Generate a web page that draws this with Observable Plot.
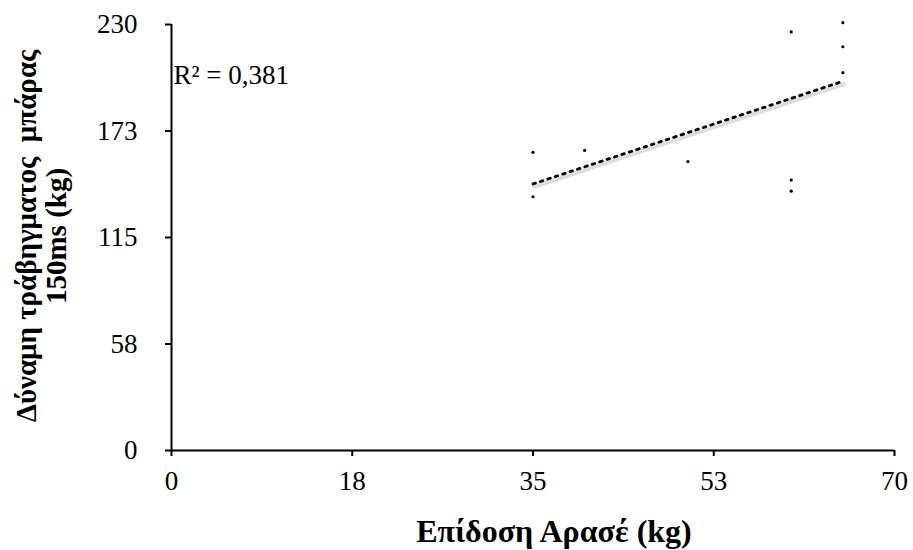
<!DOCTYPE html>
<html>
<head>
<meta charset="utf-8">
<script src="https://cdn.jsdelivr.net/npm/d3@7"></script>
<script src="https://cdn.jsdelivr.net/npm/@observablehq/plot@0.6"></script>
<style>
  html, body { margin: 0; padding: 0; background: #fff; }
</style>
</head>
<body>
<div id="chart"></div>
<script>
// Data
const arase = [35, 35, 40, 50, 60, 60, 60, 65, 65, 65];          // Επίδοση Αρασέ (kg)
const force = [161, 137, 162, 156, 226, 146, 140, 231, 218, 204]; // Δύναμη τράβηγματος μπάρας 150ms (kg)
const xTicks = [0, 17.5, 35, 52.5, 70];
const yTicks = [0, 57.5, 115, 172.5, 230];
const xTitle = "Επίδοση Αρασέ (kg)";
const yTitle1 = "Δύναμη τράβηγματος  μπάρας";
const yTitle2 = "150ms (kg)";
const r2Label = "R² = 0,381";

const data = arase.map((x, i) => ({x, y: force[i]}));
const fmt = d => String(Math.round(d));

const chart = Plot.plot({
  width: 913,
  height: 550,
  marginLeft: 171,
  marginRight: 19,
  marginTop: 24,
  marginBottom: 100,
  x: {domain: [0, 70]},
  y: {domain: [0, 230]},
  style: {fontFamily: "'Liberation Serif', 'Times New Roman', serif", fontSize: "27px", background: "#fff", color: "#000", overflow: "visible"},
  marks: [
    Plot.axisX({ticks: xTicks, tickFormat: fmt, tickSize: 6, tickPadding: 14, strokeWidth: 2, label: null}),
    Plot.axisY({ticks: yTicks, tickFormat: fmt, tickSize: 6, tickPadding: 28, strokeWidth: 2, label: null}),
    Plot.ruleY([0], {stroke: "#000", strokeWidth: 2}),
    Plot.ruleX([0], {stroke: "#000", strokeWidth: 2}),
    Plot.linearRegressionY(data, {x: "x", y: "y", ci: 0, stroke: "#bbb", strokeOpacity: 0.5, strokeWidth: 4, dy: 3, dx: 1}),
    Plot.linearRegressionY(data, {x: "x", y: "y", ci: 0, stroke: "#000", strokeWidth: 2.8, strokeDasharray: "2.6 5.2"}),
    Plot.dot(data, {x: "x", y: "y", r: 1.6, fill: "#000", stroke: "none"}),
    Plot.text([r2Label], {frameAnchor: "top-left", text: d => d, textAnchor: "start", dx: 2, dy: 40, fontSize: 27, fill: "#000"})
  ]
});

const svg = d3.select(chart);
svg.append("text")
  .attr("x", 554).attr("y", 542)
  .attr("text-anchor", "middle")
  .attr("font-weight", "bold")
  .attr("font-size", 32)
  .attr("fill", "#000")
  .text(xTitle);

const yt = svg.append("text")
  .attr("transform", "translate(0,236) rotate(-90)")
  .attr("text-anchor", "middle")
  .attr("font-weight", "bold")
  .attr("font-size", 29)
  .attr("fill", "#000");
yt.append("tspan").attr("x", 0).attr("y", 36).style("white-space", "pre").text(yTitle1);
yt.append("tspan").attr("x", 0).attr("y", 66).text(yTitle2);

document.getElementById("chart").appendChild(chart);
</script>
</body>
</html>
